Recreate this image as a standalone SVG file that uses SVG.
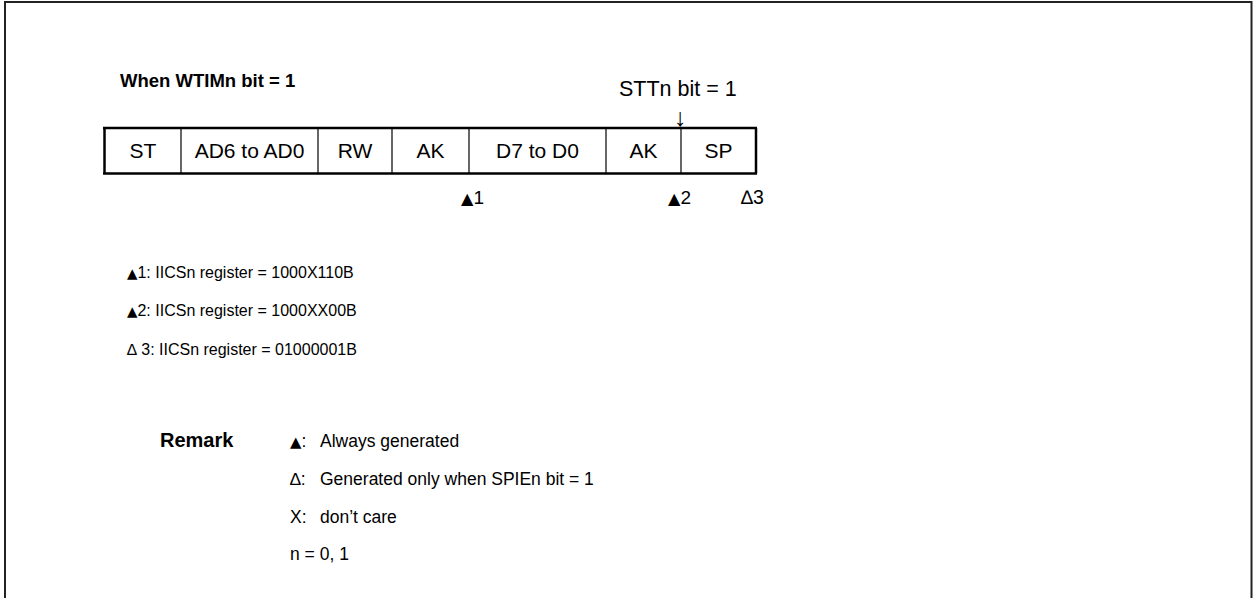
<svg xmlns="http://www.w3.org/2000/svg" width="1253" height="598" viewBox="0 0 1253 598">
<style>
text{font-family:"Liberation Sans",Arial,sans-serif;font-size:17.5px;fill:#000}
.b{font-weight:bold}
.c{text-anchor:middle}
.cell{font-size:21px}
.leg{font-size:16px}
.tri{font-family:"DejaVu Sans",sans-serif;font-size:0.85em}
.thick{stroke:#000;stroke-width:2.5;fill:none}
.thin{stroke:#000;stroke-width:1.2;fill:none}
</style>
<rect width="1253" height="598" fill="#fff"/>
<g id="frame">
<path d="M5,598 V2 H1251.5 V598" fill="none" stroke="#222" stroke-width="2"/>
</g>
<text id="title" class="b" x="120" y="87" style="font-size:18.5px">When WTIMn bit = 1</text>
<g id="stt">
<text x="619" y="96" style="font-size:21.5px">STTn bit = 1</text>
<text x="680" y="126" class="c" style="font-size:25px">↓</text>
</g>
<g id="frame-box">
<line class="thick" x1="103" y1="128" x2="757" y2="128"/>
<line class="thick" x1="103" y1="173.5" x2="757" y2="173.5"/>
<line class="thick" x1="104.5" y1="128" x2="104.5" y2="173.5"/>
<line class="thick" x1="756" y1="128" x2="756" y2="173.5"/>
<line class="thin" x1="181" y1="128" x2="181" y2="173.5"/>
<line class="thin" x1="318" y1="128" x2="318" y2="173.5"/>
<line class="thin" x1="392" y1="128" x2="392" y2="173.5"/>
<line class="thin" x1="469" y1="128" x2="469" y2="173.5"/>
<line class="thin" x1="606" y1="128" x2="606" y2="173.5"/>
<line class="thin" x1="681" y1="128" x2="681" y2="173.5"/>
<text class="c cell" x="143" y="158">ST</text>
<text class="c cell" x="249.5" y="158">AD6 to AD0</text>
<text class="c cell" x="355" y="158">RW</text>
<text class="c cell" x="430.5" y="158">AK</text>
<text class="c cell" x="537.5" y="158">D7 to D0</text>
<text class="c cell" x="643.5" y="158">AK</text>
<text class="c cell" x="718.5" y="158">SP</text>
</g>
<g id="markers">
<text x="461" y="204" style="font-size:19px"><tspan class="tri">▲</tspan>1</text>
<text x="668" y="204" style="font-size:19px"><tspan class="tri">▲</tspan>2</text>
<text x="741" y="204" style="font-size:19.5px">∆3</text>
</g>
<g id="legend">
<text class="leg" x="127" y="278"><tspan class="tri">▲</tspan>1: IICSn register = 1000X110B</text>
<text class="leg" x="127" y="316"><tspan class="tri">▲</tspan>2: IICSn register = 1000XX00B</text>
<text class="leg" x="127" y="355">∆ 3: IICSn register = 01000001B</text>
</g>
<g id="remark">
<text class="b" x="160" y="447" style="font-size:20px">Remark</text>
<text x="290" y="447"><tspan class="tri">▲</tspan>:</text><text x="320" y="447">Always generated</text>
<text x="290" y="485">∆:</text><text x="320" y="485">Generated only when SPIEn bit = 1</text>
<text x="290" y="523">X:</text><text x="320" y="523">don’t care</text>
<text x="290" y="560">n = 0, 1</text>
</g>
</svg>
